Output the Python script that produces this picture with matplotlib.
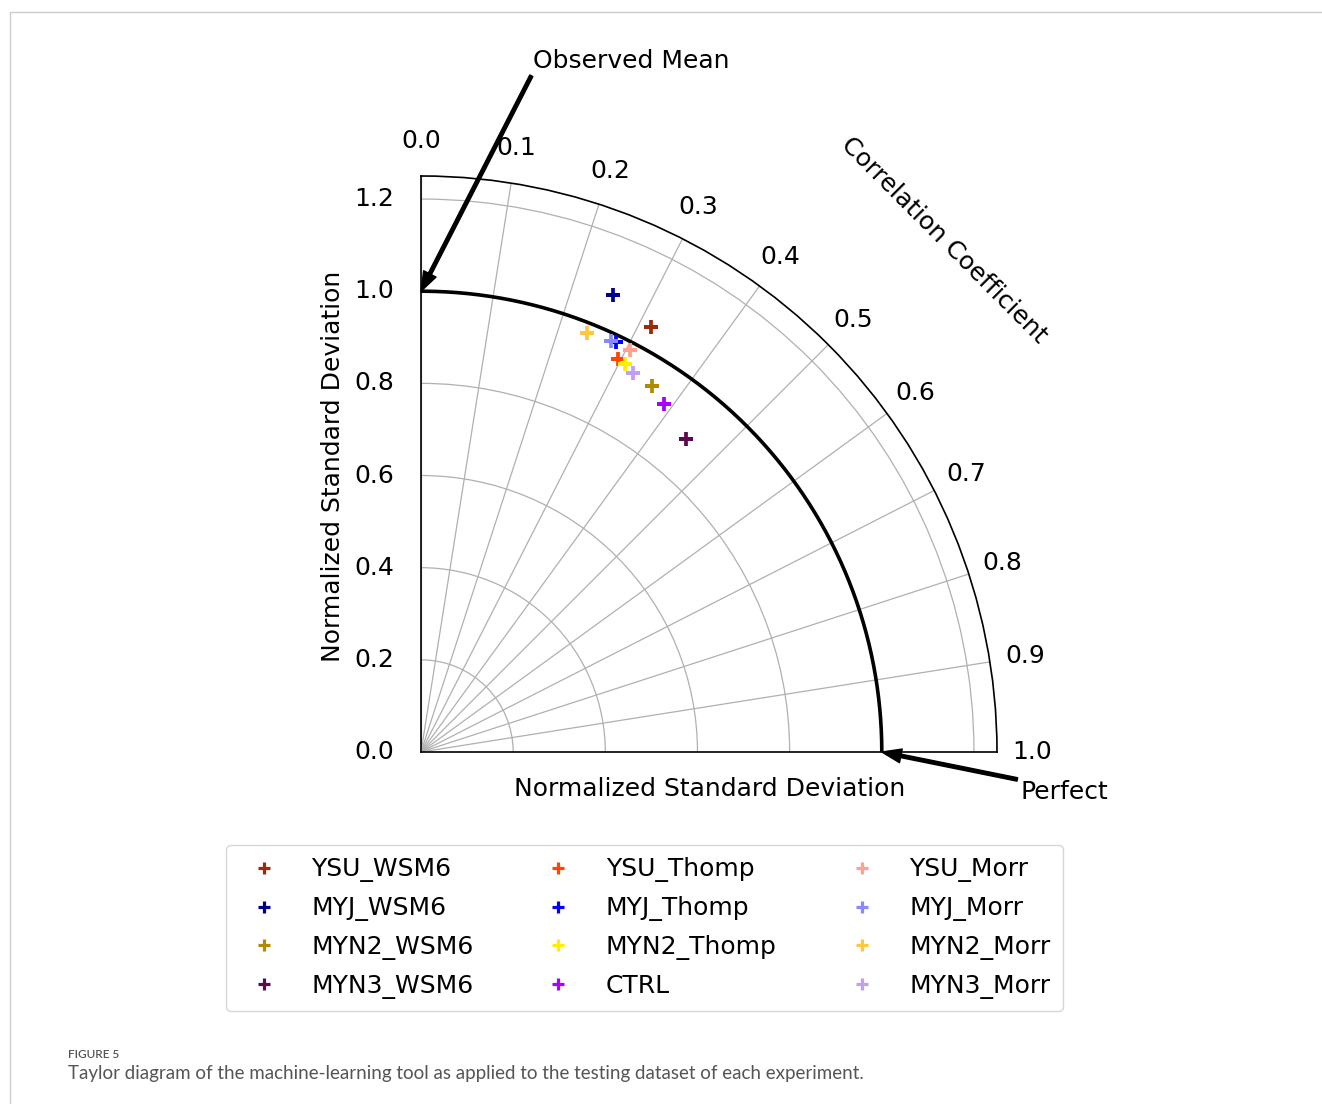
import numpy as np
import matplotlib.pyplot as plt
from matplotlib.lines import Line2D
from matplotlib.patches import Rectangle

names = ["YSU_WSM6", "MYJ_WSM6", "MYN2_WSM6", "MYN3_WSM6",
         "YSU_Thomp", "MYJ_Thomp", "MYN2_Thomp", "CTRL",
         "YSU_Morr", "MYJ_Morr", "MYN2_Morr", "MYN3_Morr"]
corr = [0.316, 0.253, 0.358, 0.448,
        0.296, 0.282, 0.308, 0.389,
        0.306, 0.276, 0.240, 0.324]
std_norm = [1.050, 1.076, 0.940, 0.890,
            0.955, 0.986, 0.952, 0.921,
            0.983, 0.984, 0.979, 0.943]
colors = ["#9a2a0a", "#00008b", "#b08a00", "#5e0b4e",
          "#ff4500", "#0000ff", "#ffee00", "#aa00ff",
          "#ffa090", "#8888ff", "#ffc83c", "#c0a0f0"]

corr_ticks = np.round(np.arange(0, 1.01, 0.1), 1)
std_ticks = [0.0, 0.2, 0.4, 0.6, 0.8, 1.0, 1.2]
std_max = 1.25
obs_std = 1.0

W, H = 1322, 1104
fig = plt.figure(figsize=(W / 100, H / 100), dpi=100)
fs = 18

# page frame
fig.add_artist(Rectangle((10 / W, -0.1), 1.2, 1 - 12 / H + 0.1, transform=fig.transFigure,
                         fill=False, edgecolor="#cccccc", linewidth=1))

ax = fig.add_axes([421 / W, 1 - 752 / H, 576 / W, 576 / H], projection="polar")
ax.set_thetamin(0)
ax.set_thetamax(90)
ax.set_ylim(0, std_max)

# correlation -> angle, linear
def to_theta(c):
    return (1 - np.asarray(c)) * np.pi / 2

ax.set_thetagrids(np.degrees(to_theta(corr_ticks)), [f"{c:.1f}" for c in corr_ticks])
ax.set_rgrids(std_ticks, [f"{s:.1f}" for s in std_ticks])
ax.tick_params(axis="x", pad=15, labelsize=fs)
ax.yaxis.set_tick_params(label1On=False, label2On=True, tick1On=False, tick2On=False,
                         pad=16, labelsize=fs)
ax.grid(True, color="#b0b0b0", linewidth=0.9)
for sp in ax.spines.values():
    sp.set_linewidth(1.2)

# reference arc (observed std)
th = np.linspace(0, np.pi / 2, 200)
ax.plot(th, np.full_like(th, obs_std), color="black", linewidth=2.6, zorder=3)

for name, c, s, col in zip(names, corr, std_norm, colors):
    ax.plot(to_theta(c), s, marker="+", linestyle="none", color=col,
            markersize=9.5, markeredgewidth=2.7, zorder=4)

# annotations
arrow = dict(facecolor="black", edgecolor="black", width=2.5, headwidth=10, headlength=14, shrink=0)
ax.annotate("Observed Mean", xy=(to_theta(0.0), obs_std), xytext=(631, H - 61),
            textcoords="figure pixels", ha="center", va="center", fontsize=fs, arrowprops=arrow)
ax.annotate("Perfect", xy=(to_theta(1.0), obs_std), xytext=(1064, H - 792),
            textcoords="figure pixels", ha="center", va="center", fontsize=fs, arrowprops=arrow)

fig.text(944 / W, 1 - 240 / H, "Correlation Coefficient", rotation=-45, fontsize=fs,
         ha="center", va="center", rotation_mode="anchor")
fig.text(333 / W, 1 - 466 / H, "Normalized Standard Deviation", rotation=90, fontsize=fs,
         ha="center", va="center")
fig.text(710 / W, 1 - 789 / H, "Normalized Standard Deviation", fontsize=fs,
         ha="center", va="center")

handles = [Line2D([], [], marker="+", linestyle="none", color=col, markersize=8,
                  markeredgewidth=2.3) for col in colors]
fig.legend(handles, names, ncol=3, loc="upper center", bbox_to_anchor=(644.5 / W, 1 - 845 / H),
           fontsize=fs, frameon=True, fancybox=True, edgecolor="#cccccc", borderaxespad=0,
           handletextpad=0.9, columnspacing=2.4, labelspacing=0.55, borderpad=0.5)

fig.text(68 / W, 1 - 1054 / H, "FIGURE 5", fontsize=8.5, color="#555555",
         family="Lato", weight="semibold", ha="left", va="center")
fig.text(68 / W, 1 - 1074 / H,
         "Taylor diagram of the machine-learning tool as applied to the testing dataset of each experiment.",
         fontsize=13.5, color="#555555", family="Lato", ha="left", va="center")

fig.savefig("out.png", dpi=100)
